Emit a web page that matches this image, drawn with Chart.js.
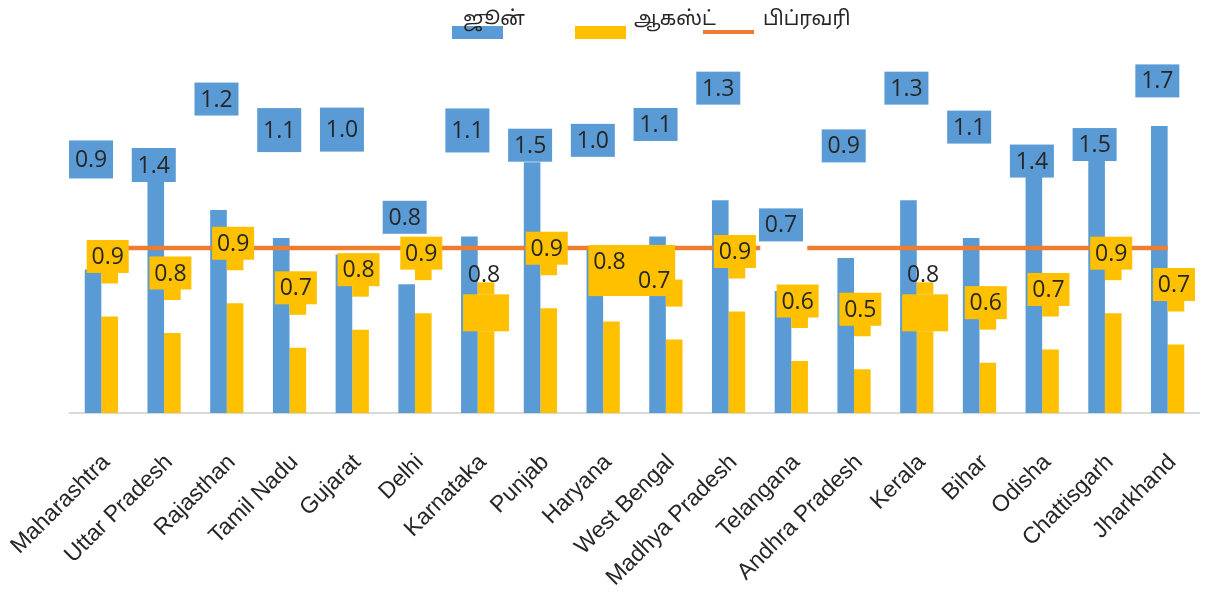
<!DOCTYPE html>
<html lang="ta">
<head>
<meta charset="UTF-8">
<title>மாநில வாரியான ஒப்பீடு</title>
<script src="https://cdn.jsdelivr.net/npm/chart.js@4"></script>
<style>
  html, body { margin: 0; background: #fff; }
  #wrap { width: 1206px; height: 594px; }
</style>
</head>
<body>
<div id="wrap"><canvas id="chart" width="1206" height="594"></canvas></div>
<script>
// state-wise values for each month
const states = ['Maharashtra', 'Uttar Pradesh', 'Rajasthan', 'Tamil Nadu', 'Gujarat', 'Delhi',
  'Karnataka', 'Punjab', 'Haryana', 'West Bengal', 'Madhya Pradesh', 'Telangana',
  'Andhra Pradesh', 'Kerala', 'Bihar', 'Odisha', 'Chattisgarh', 'Jharkhand'];
const june     = [0.87, 1.40, 1.23, 1.06, 0.96, 0.78, 1.07, 1.52, 1.01, 1.07, 1.29, 0.74, 0.94, 1.29, 1.06, 1.43, 1.53, 1.74];
const august   = [0.86, 0.76, 0.94, 0.67, 0.78, 0.88, 0.77, 0.91, 0.83, 0.72, 0.89, 0.59, 0.54, 0.77, 0.58, 0.66, 0.88, 0.69];
const february = [1, 1, 1, 1, 1, 1, 1, 1, 1, 1, 1, 1, 1, 1, 1, 1, 1, 1];
const seriesNames = ['ஜூன்', 'ஆகஸ்ட்', 'பிப்ரவரி'];

const BLUE = '#5B9BD5';
const GOLD = '#FFC000';
const ORANGE = '#ED7D31';
const INK = '#262626';

// callout placement (pixels above the bar top) and box heights for the June labels
const blueLift = [110, 17, 111, 108, 125, 67, 106, 17, 106, 112, 112, 66, 112, 112, 111, 16, 16, 45];
const blueBoxH = [38, 34, 33, 44, 44, 33, 44, 33, 33, 33, 33, 33, 33, 33, 33, 33, 33, 33];
const splitCallouts = [6, 13];   // text floats above, box sits on the bar
const joinedCallouts = [8];      // box runs on into the next state's label
const lineMaskAt = 11;           // blank white label on the Feb line
const labelFont = '23px "Open Sans", sans-serif';

function box(ctx, x, y, w, h, color) {
  ctx.fillStyle = color;
  ctx.fillRect(x, y, w, h);
}
function write(ctx, str, x, y) {
  ctx.fillStyle = INK;
  ctx.fillText(str, x, y);
}

const callouts = {
  id: 'callouts',
  afterDatasetsDraw(chart) {
    const ctx = chart.ctx;
    const blue = chart.getDatasetMeta(0).data;
    const gold = chart.getDatasetMeta(1).data;
    const line = chart.getDatasetMeta(2).data;
    ctx.save();

    const p = line[lineMaskAt];
    box(ctx, p.x - 31, p.y - 6, 47, 12, '#fff');

    ctx.font = labelFont;
    ctx.textAlign = 'center';
    ctx.textBaseline = 'middle';

    blue.forEach((bar, i) => {
      const h = blueBoxH[i], cx = bar.x - 2, cy = bar.y - blueLift[i];
      box(ctx, cx - 22, cy - h / 2, 44, h, BLUE);
      write(ctx, june[i].toFixed(1), cx, cy + 1);
    });

    const tails = joinedCallouts.map(i => i + 1);
    gold.forEach((bar, i) => {
      const half = bar.width / 2, str = august[i].toFixed(1);
      if (splitCallouts.includes(i)) {
        box(ctx, bar.x - half, bar.y - 49, bar.width, 12, GOLD);
        box(ctx, bar.x - 23, bar.y - 37, 46, 37, GOLD);
        write(ctx, str, bar.x - 2, bar.y - 56);
        return;
      }
      const cx = bar.x - 2, cy = bar.y - 60;
      box(ctx, bar.x - half, cy, bar.width, bar.y - 33 - cy, GOLD);
      if (tails.includes(i)) {
        write(ctx, str, bar.x - 20, bar.y - 58);
        return;
      }
      if (joinedCallouts.includes(i)) {
        const next = gold[i + 1];
        box(ctx, cx - 21, cy - 16.5, next.x + 1 - (cx - 21), next.y - 43.5 - (cy - 16.5), GOLD);
      } else {
        box(ctx, cx - 21, cy - 16.5, 42, 33, GOLD);
      }
      write(ctx, str, cx, cy + 1);
    });
    ctx.restore();
  }
};

// legend across the top: swatch below, name set up and to the right
const legendSpots = [
  { x: 452, textX: 463 },
  { x: 575, textX: 634 },
  { x: 703, textX: 763 }
];
const topLegend = {
  id: 'topLegend',
  afterDraw(chart) {
    const ctx = chart.ctx;
    ctx.save();
    ctx.font = '20px "Noto Sans Tamil", "Noto Sans", sans-serif';
    ctx.textAlign = 'left';
    ctx.textBaseline = 'alphabetic';
    chart.data.datasets.forEach((ds, i) => {
      const s = legendSpots[i];
      if (ds.type === 'line') {
        box(ctx, s.x, 30, 51, 4, ds.borderColor);
      } else {
        box(ctx, s.x, 26, 51, 13, ds.backgroundColor);
      }
      write(ctx, ds.label, s.textX, 25);
    });
    ctx.restore();
  }
};

new Chart(document.getElementById('chart'), {
  type: 'bar',
  data: {
    labels: states,
    datasets: [
      { label: seriesNames[0], data: june, backgroundColor: BLUE, yAxisID: 'y', order: 1 },
      { label: seriesNames[1], data: august, backgroundColor: GOLD, yAxisID: 'y2', order: 2 },
      { label: seriesNames[2], data: february, type: 'line', borderColor: ORANGE, backgroundColor: ORANGE,
        borderWidth: 4.5, pointRadius: 0, tension: 0, yAxisID: 'y', order: 0 }
    ]
  },
  options: {
    responsive: false,
    animation: false,
    categoryPercentage: 0.53,
    barPercentage: 1,
    layout: { padding: { top: 50, left: 70, right: 7, bottom: 0 } },
    plugins: { legend: { display: false }, tooltip: { enabled: false } },
    scales: {
      x: {
        grid: { display: false, drawTicks: false },
        border: { display: true, color: '#d9d9d9', width: 2 },
        ticks: {
          autoSkip: false, minRotation: 45, maxRotation: 45, padding: 36, labelOffset: 5,
          color: INK, font: { family: '"Liberation Sans", Arial, sans-serif', size: 23 }
        },
        afterFit(scale) {
          // keep the plot width fixed; the slanted names have room on the left
          scale.height = 181;
          scale.paddingLeft = 0;
          scale.paddingRight = 0;
        }
      },
      y: { display: false, min: 0, max: 2.2 },
      y2: { display: false, min: 0.275, max: 2.475 }
    }
  },
  plugins: [callouts, topLegend]
});
</script>
</body>
</html>
